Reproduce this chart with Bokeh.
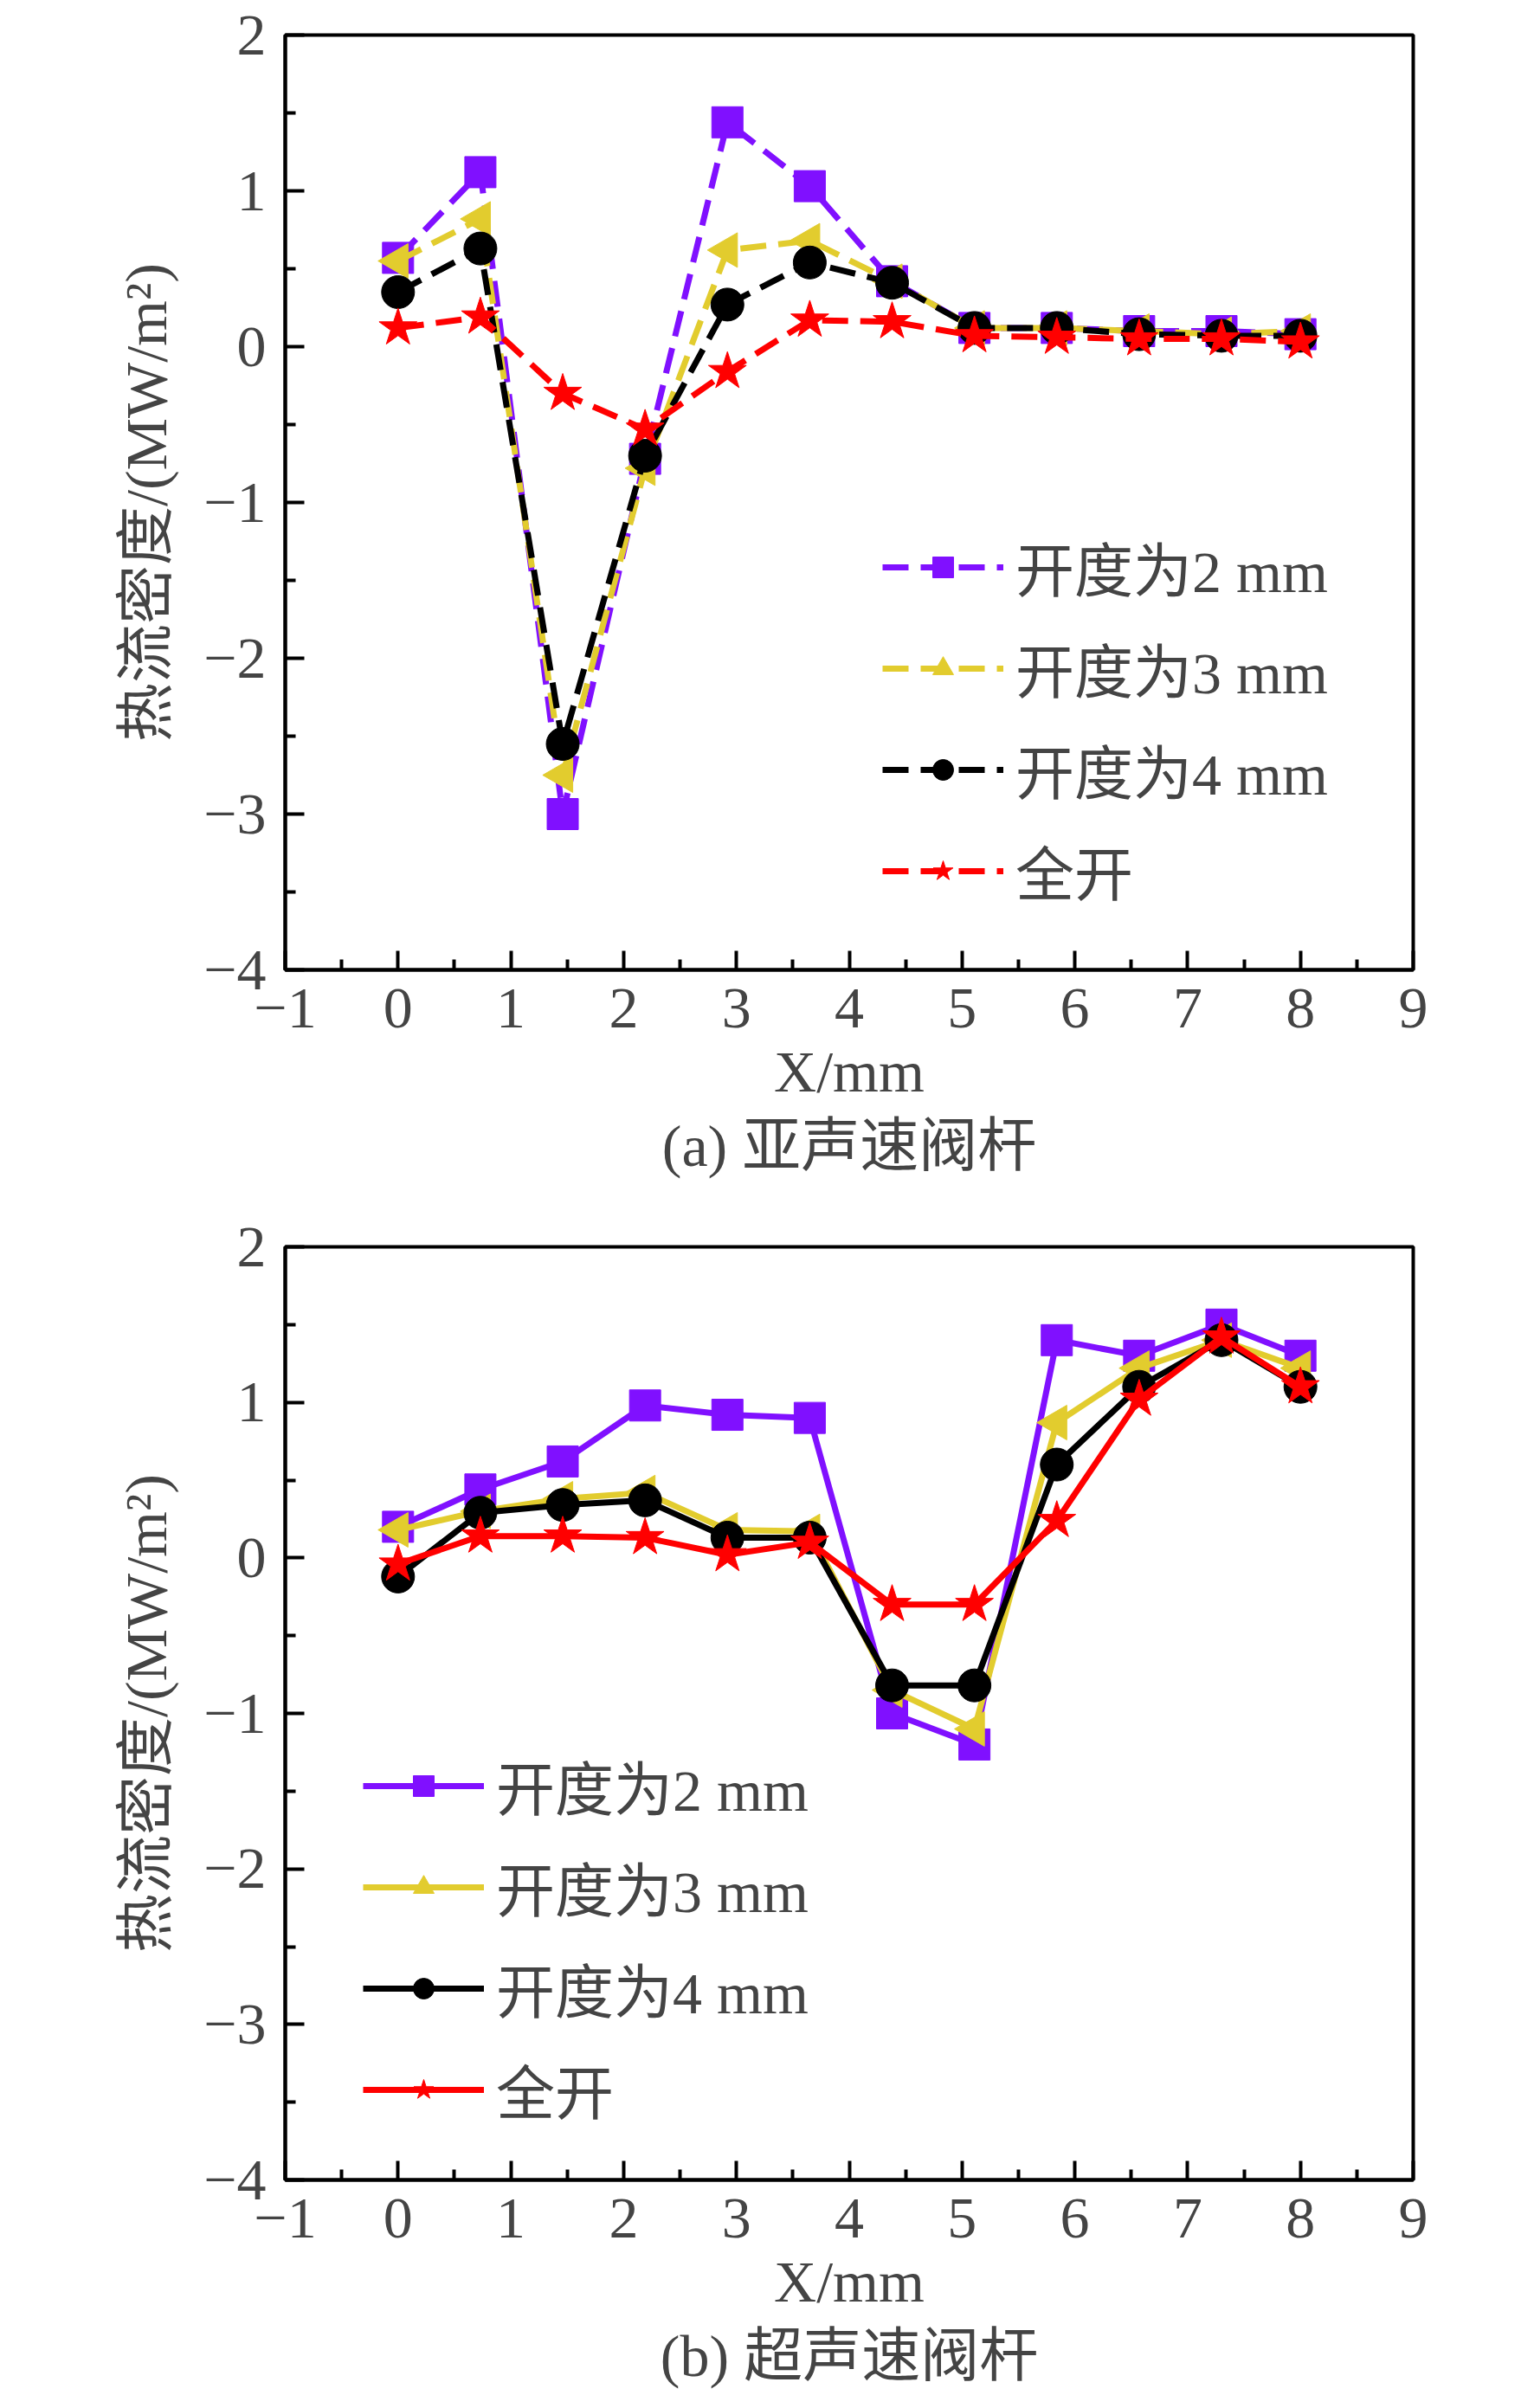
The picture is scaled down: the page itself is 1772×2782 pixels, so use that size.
from bokeh.plotting import figure
from bokeh.models import Legend, LegendItem, Title, FixedTicker, Range1d
from bokeh.layouts import column
from bokeh.embed import file_html
from bokeh.resources import INLINE

x = [0, 0.73, 1.46, 2.19, 2.92, 3.65, 4.38, 5.11, 5.84, 6.57, 7.3, 8.0]
names = ["开度为2 mm", "开度为3 mm", "开度为4 mm", "全开"]
a_2mm = [0.57, 1.12, -3.0, -0.72, 1.44, 1.03, 0.42, 0.12, 0.12, 0.1, 0.1, 0.08]
a_3mm = [0.55, 0.82, -2.75, -0.78, 0.62, 0.68, 0.42, 0.12, 0.12, 0.1, 0.08, 0.1]
a_4mm = [0.35, 0.63, -2.55, -0.7, 0.27, 0.54, 0.41, 0.12, 0.12, 0.08, 0.07, 0.07]
a_full = [0.12, 0.19, -0.3, -0.53, -0.16, 0.17, 0.16, 0.07, 0.06, 0.05, 0.05, 0.03]
b_2mm = [0.2, 0.44, 0.62, 0.98, 0.92, 0.9, -1.0, -1.2, 1.4, 1.3, 1.5, 1.3]
b_3mm = [0.18, 0.3, 0.38, 0.42, 0.18, 0.17, -0.85, -1.1, 0.87, 1.22, 1.4, 1.22]
b_4mm = [-0.12, 0.29, 0.34, 0.37, 0.13, 0.13, -0.82, -0.82, 0.6, 1.1, 1.4, 1.1]
b_full = [-0.04, 0.14, 0.14, 0.13, 0.02, 0.1, -0.3, -0.3, 0.24, 1.02, 1.42, 1.1]
colors = ["#8010ff", "#e2cc2e", "#000000", "#ff0000"]
markers = ["square", "triangle", "circle", "star"]
sizes = [36, 40, 38, 46]

SERIF = "Liberation Serif, Noto Sans CJK SC"
FS = "68px"

def make(series, caption, dash, top_border, frame_h, fig_h, leg_loc):
    p = figure(width=1756, height=fig_h, output_backend="svg", toolbar_location=None,
               x_range=Range1d(-1, 9), y_range=Range1d(-4, 2),
               min_border_left=329, min_border_right=124, min_border_top=top_border,
               min_border_bottom=fig_h - top_border - frame_h)
    p.xgrid.visible = False
    p.ygrid.visible = False
    p.outline_line_color = "black"
    p.outline_line_width = 4
    p.xaxis.ticker = FixedTicker(ticks=list(range(-1, 10)), minor_ticks=[i + 0.5 for i in range(-1, 9)])
    p.yaxis.ticker = FixedTicker(ticks=list(range(-4, 3)), minor_ticks=[i + 0.5 for i in range(-4, 2)])
    for ax in (p.xaxis[0], p.yaxis[0]):
        ax.major_tick_in = 22
        ax.major_tick_out = 0
        ax.minor_tick_in = 12
        ax.minor_tick_out = 0
        ax.axis_line_width = 4
        ax.major_tick_line_width = 4
        ax.minor_tick_line_width = 4
        ax.major_label_standoff = 22
        ax.major_label_text_font = SERIF
        ax.major_label_text_font_size = FS
        ax.axis_label_text_font = SERIF
        ax.axis_label_text_font_size = FS
        ax.axis_label_text_font_style = "normal"
    p.xaxis.major_label_overrides = {i: ("−" + str(-i) if i < 0 else str(i)) for i in range(-1, 10)}
    p.yaxis.major_label_overrides = {i: ("−" + str(-i) if i < 0 else str(i)) for i in range(-4, 3)}
    p.xaxis.axis_label = "X/mm"
    p.xaxis.axis_label_standoff = 10
    p.yaxis.axis_label = "热流密度/(MW/m²)"
    p.yaxis.axis_label_standoff = 25
    items = []
    for ys, c, m, s, n in zip(series, colors, markers, sizes, names):
        r1 = p.line(x, ys, line_color=c, line_width=7, line_dash=dash)
        if m == "triangle":
            r2 = p.scatter(x, ys, marker=m, size=s, fill_color=c, line_color=c,
                           angle=1.5708, angle_units="rad")
        else:
            r2 = p.scatter(x, ys, marker=m, size=s, fill_color=c, line_color=c)
        items.append(LegendItem(label=n, renderers=[r1, r2]))
    leg = Legend(items=items, location=leg_loc, label_text_font=SERIF, label_text_font_size=FS,
                 border_line_alpha=0, background_fill_alpha=0, glyph_width=140, glyph_height=60,
                 spacing=18, label_standoff=14)
    p.add_layout(leg, "center")
    p.add_layout(Title(text=caption, align="center", text_font=SERIF, text_font_size=FS,
                       text_font_style="normal"), "below")
    return p

p1 = make([a_2mm, a_3mm, a_4mm, a_full], "(a) 亚声速阀杆", "30 14", 40, 1080, 1385, (680, 55))
p2 = make([b_2mm, b_3mm, b_4mm, b_full], "(b) 超声速阀杆", "solid", 55, 1078, 1385, (80, 45))
layout = column(p1, p2, spacing=0)
open("out.html", "w").write(file_html(layout, INLINE))
